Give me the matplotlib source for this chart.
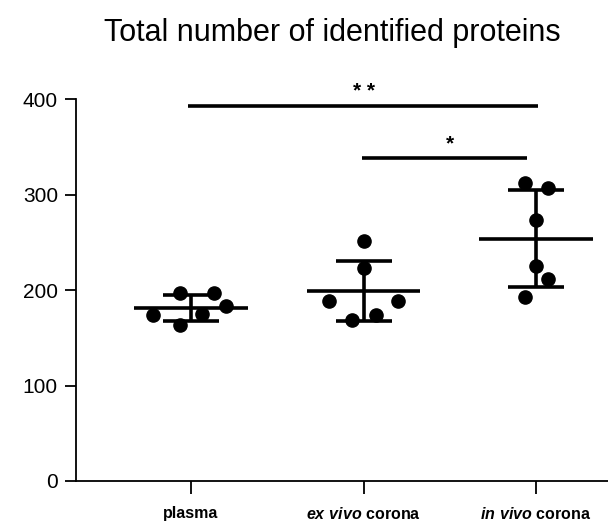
import numpy as np
import matplotlib
matplotlib.use('Agg')
import matplotlib.pyplot as plt

plt.rcParams['font.family'] = ['Liberation Sans', 'DejaVu Sans']
plt.rcParams['mathtext.fontset'] = 'custom'
plt.rcParams['mathtext.bfit'] = 'Liberation Sans:italic:bold'

# dane
groups = ['plasma', 'ex vivo corona', 'in vivo corona']
labels = ['plasma', r'$\mathbfit{ex\ vivo}$ corona', r'$\mathbfit{in\ vivo}$ corona']
plasma = [174, 197, 163, 175, 197, 183]
ex_vivo = [251, 223, 188, 169, 174, 188]
in_vivo = [312, 307, 273, 225, 211, 193]
# przesuniecia punktow w poziomie (rozrzut)
jitter_plasma = [-0.22, -0.064, -0.064, 0.064, 0.133, 0.2]
jitter_ex = [0.0, 0.0, -0.2, -0.066, 0.07, 0.2]
jitter_in = [-0.066, 0.07, 0.0, 0.0, 0.07, -0.066]
sig_pairs = [(0, 2), (1, 2)]
sig_text = ['* *', '*']
sig_y = [393, 338]

data = [plasma, ex_vivo, in_vivo]
jit = [jitter_plasma, jitter_ex, jitter_in]

fig = plt.figure(figsize=(6.08, 5.23), dpi=100)
ax = fig.add_axes([76/608, 42/523, 1 - 76/608, 382/523])

for i in range(len(data)):
    y = np.array(data[i])
    m = y.mean()
    sd = y.std(ddof=1)
    ax.plot([i - 0.33, i + 0.33], [m, m], '-k', lw=2.6, solid_capstyle='butt', zorder=2)
    ax.errorbar(i, m, yerr=sd, fmt='none', ecolor='k', elinewidth=2.6, capsize=20, capthick=2.6, zorder=2)
    ax.plot(i + np.array(jit[i]), y, 'o', color='k', ms=9.5, zorder=3)

# paski istotnosci
ax.plot([-0.02, 2.01], [sig_y[0], sig_y[0]], '-k', lw=2.6, solid_capstyle='butt', clip_on=False)
ax.plot([0.99, 1.95], [sig_y[1], sig_y[1]], '-k', lw=2.6, solid_capstyle='butt', clip_on=False)
ax.text(1.0, sig_y[0] + 5, sig_text[0], ha='center', va='bottom', fontsize=15, fontweight='bold', clip_on=False)
ax.text(1.5, sig_y[1] + 5, sig_text[1], ha='center', va='bottom', fontsize=15, fontweight='bold', clip_on=False)

ax.set_xlim(-0.667, 2.417)
ax.set_ylim(0, 400)
ax.set_yticks([0, 100, 200, 300, 400])
ax.set_xticks(range(len(groups)))
ax.set_xticklabels(labels, fontsize=11.5, fontweight='bold')
ax.tick_params(axis='y', labelsize=15, length=8, width=1.3, pad=5)
ax.tick_params(axis='x', length=9, width=1.3, pad=9)
ax.spines['top'].set_visible(False)
ax.spines['right'].set_visible(False)
ax.spines['left'].set_linewidth(1.3)
ax.spines['bottom'].set_linewidth(1.3)

fig.text(332/608, 1 - 33/523, 'Total number of identified proteins', ha='center', va='center', fontsize=22)

fig.savefig('out.png', dpi=100)
